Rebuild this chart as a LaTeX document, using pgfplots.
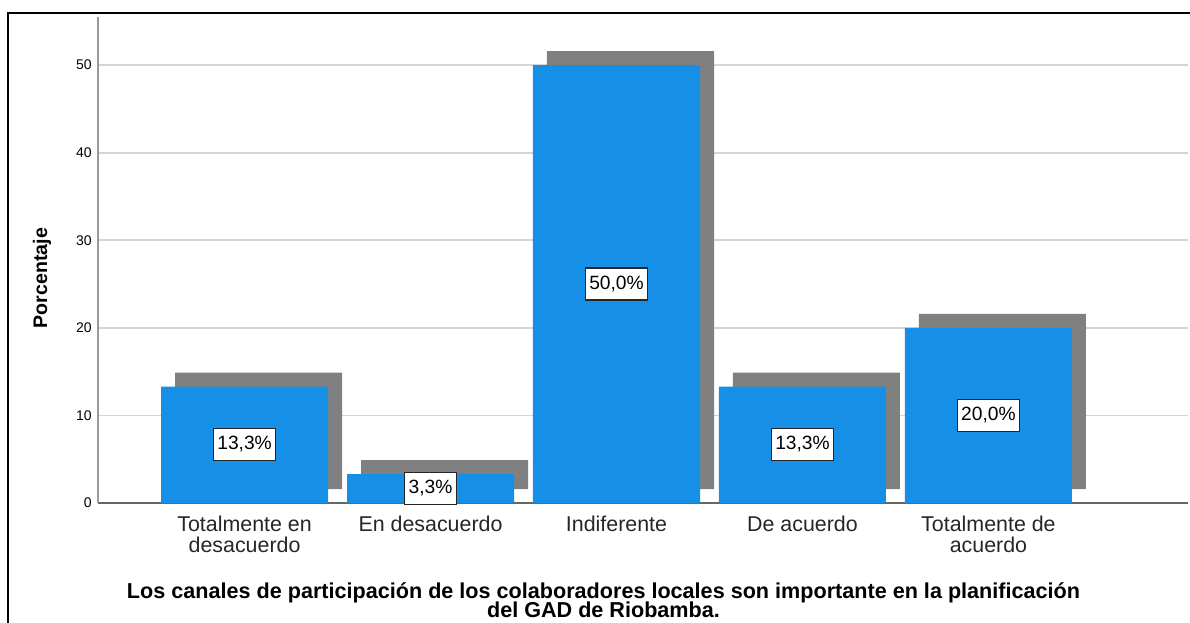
\documentclass[border=0pt]{standalone}
\usepackage{fontspec}
\setmainfont{Liberation Sans}
\usepackage{pgfplots}
\pgfplotsset{compat=1.18}
\usepackage{pgfplotstable}

\definecolor{barblue}{RGB}{21,144,230}
\definecolor{shadowgray}{RGB}{128,128,128}
\definecolor{gridgray}{RGB}{212,212,212}

% x = category index, v = percentage
\pgfplotstableread{
x v
0 13.3
1 3.3
2 50.0
3 13.3
4 20.0
}\datatable

\begin{document}
\begin{tikzpicture}
\begin{axis}[
    at={(0pt,0pt)}, anchor=south west,
    scale only axis,
    width=545pt, height=243pt,
    xmin=-0.788, xmax=5.073,
    ymin=0, ymax=55.5,
    axis x line=bottom, axis y line=left,
    axis line style={-, line width=0.8pt},
    x axis line style={draw=black!60},
    y axis line style={draw=black!40},
    xtick=data,
    xticklabels={Totalmente en\\desacuerdo, En desacuerdo, Indiferente, De acuerdo, Totalmente de\\acuerdo},
    xticklabel style={align=center, font=\fontsize{10.7}{10.5}\selectfont, text=black!85, inner sep=0pt, yshift=-6.5pt},
    ytick={0,10,20,30,40,50},
    yticklabel style={font=\fontsize{7}{8}\selectfont, inner sep=0pt, xshift=-3pt},
    /pgf/number format/assume math mode=true,
    major tick length=0pt,
    ymajorgrids=true,
    grid style={draw=gridgray, line width=0.9pt},
    clip=false,
]
% shadow bars, shifted right and up
\addplot[ybar, bar width=83.5pt, bar shift=0pt, fill=shadowgray, draw=none, xshift=7pt, yshift=7pt]
    table[x=x, y=v] {\datatable};
% main bars
\addplot[ybar, bar width=83.5pt, bar shift=0pt, fill=barblue, draw=none]
    table[x=x, y=v] {\datatable};
% value labels in the middle of each bar
\addplot[only marks, mark=none, point meta=explicit,
    nodes near coords={\pgfmathprintnumber[fixed,fixed zerofill,precision=1,use comma]{\pgfplotspointmeta}\%},
    every node near coord/.append style={anchor=center, fill=white, draw=black!85, line width=0.6pt,
        font=\fontsize{9.6}{10}\selectfont, text height=7pt, text depth=2pt, inner xsep=2pt, inner ysep=3.5pt}]
    table[x=x, y expr=\thisrow{v}/2, meta=v] {\datatable};
\end{axis}
\node[rotate=90, font=\bfseries\fontsize{9.8}{10}\selectfont] at (-28pt,112.5pt) {Porcentaje};
\node[anchor=base, font=\bfseries\fontsize{10.8}{12}\selectfont] at (252.75pt,-47.5pt)
    {Los canales de participación de los colaboradores locales son importante en la planificación};
\node[anchor=base, font=\bfseries\fontsize{10.8}{12}\selectfont] at (252.75pt,-57.3pt) {del GAD de Riobamba.};
\draw[line width=1pt] (600pt,245pt) -- (-45pt,245pt) -- (-45pt,-80pt);
\pgfresetboundingbox
\useasboundingbox (-49pt,-59.5pt) rectangle (546pt,251.5pt);
\end{tikzpicture}
\end{document}
